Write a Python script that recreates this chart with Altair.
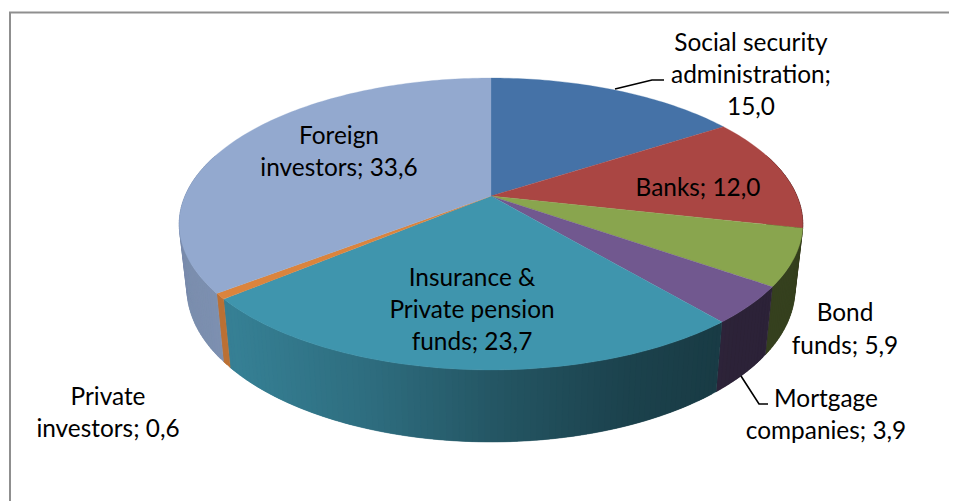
import numpy as np
import pandas as pd
import altair as alt

# ---- data ----
categories = ["Social security administration", "Banks", "Bond funds", "Mortgage companies",
              "Insurance & Private pension funds", "Private investors", "Foreign investors"]
shares = [15.0, 12.0, 5.9, 3.9, 23.7, 0.6, 33.6]
colors = ["#4572A7", "#AA4643", "#89A54E", "#71588F", "#3F95AD", "#DB843D", "#93A9CF"]
label_lines = ["Social security", "administration;", "15,0", "Banks; 12,0", "Bond", "funds; 5,9",
               "Mortgage", "companies; 3,9", "Private", "investors; 0,6", "Insurance &",
               "Private pension", "funds; 23,7", "Foreign", "investors; 33,6"]

# ---- layout of the tilted pie (perspective camera), in picture pixels ----
CX, CY, A, B, K = 491.0, 196.0, 306.0, 140.6, 0.1918
SHRINK = 0.975
label_x = [751, 751, 751, 698, 845, 845, 826, 826, 108, 108, 472, 472, 472, 339, 339]
label_y = [43.5, 75.5, 107.5, 188.5, 313.5, 346.5, 399.5, 431.5, 397.5, 429.5, 278.5, 310.5, 342.5, 136.5, 168.5]
shade_x = [180, 231, 370, 491, 620, 714, 800]
shade_f = [0.84, 0.86, 0.73, 0.58, 0.45, 0.40, 0.39]


def top_point(t):
    X, Y = np.sin(t), np.cos(t)
    d = 1 + K * Y
    return CX + A * X / d, CY - B * Y / d


def bottom_point(t):
    x, y = top_point(t)
    return CX + (x - CX) * SHRINK, y + 68 + 0.048 * (y - 287)


def strips(poly):
    """Vertical sections of a convex polygon, as x / y / y2 rows."""
    poly = np.asarray(poly)
    rows = []
    for x in np.unique(np.round(poly[:, 0], 3)):
        ys = []
        for (x0, y0), (x1, y1) in zip(poly, np.roll(poly, -1, axis=0)):
            lo, hi = min(x0, x1), max(x0, x1)
            if lo - 0.002 <= x <= hi + 0.002:
                if abs(x1 - x0) < 1e-6:
                    ys += [y0, y1]
                else:
                    ys.append(y0 + (y1 - y0) * np.clip((x - x0) / (x1 - x0), 0, 1))
        if ys:
            rows.append((x, min(ys), max(ys)))
    return rows


def shaded(hex_color, x):
    f = float(np.interp(x, shade_x, shade_f))
    r, g, b = [int(hex_color[i:i + 2], 16) for i in (1, 3, 5)]
    return "#%02x%02x%02x" % (int(r * f), int(g * f), int(b * f))


total = sum(shares)
edges = np.concatenate([[0], np.cumsum(shares)]) / total * 2 * np.pi

top_rows, wall_rows = [], []
for i, c in enumerate(colors):
    t0, t1 = edges[i], edges[i + 1]
    n = max(2, int(np.degrees(t1 - t0)) + 1)
    ts = np.linspace(t0, t1, n)
    poly = [(CX, CY)] + [top_point(t) for t in ts]
    for x, y, y2 in strips(poly):
        top_rows.append(dict(id=f"s{i}", fill=c, x=x, y=y, y2=y2))
    for j in range(n - 1):
        a, b = ts[j], ts[min(j + 2, n - 1)]   # each strip runs under the next one
        if np.cos((a + b) / 2) > 0.3:
            continue
        pts = [top_point(a), top_point(b), bottom_point(b), bottom_point(a)]
        fill = shaded(c, 0.5 * (pts[0][0] + pts[1][0]))
        for x, y, y2 in strips(pts):
            wall_rows.append(dict(id=f"w{i:02d}_{j:03d}", fill=fill, x=x, y=y, y2=y2))

x_scale = alt.Scale(domain=[8, 949], nice=False, zero=False)
y_scale = alt.Scale(domain=[501, 8], nice=False, zero=False)
X = alt.X("x:Q", scale=x_scale, axis=None)
Y = alt.Y("y:Q", scale=y_scale, axis=None, stack=None)


def area_layer(rows, stroke):
    mark = alt.Chart(pd.DataFrame(rows)).mark_area(orient="vertical", interpolate="linear",
                                                   strokeWidth=stroke)
    return mark.encode(x=X, y=Y, y2="y2:Q", detail="id:N",
                       fill=alt.Fill("fill:N", scale=None),
                       stroke=alt.Stroke("fill:N", scale=None))


def poly_line(xs, ys, color, width):
    df = pd.DataFrame(dict(x=xs, y=ys, o=range(len(xs))))
    return alt.Chart(df).mark_line(color=color, strokeWidth=width, interpolate="linear").encode(
        x=X, y=alt.Y("y:Q", scale=y_scale, axis=None), order="o:Q")


frame = poly_line([10, 10, 949], [501, 12.5, 12.5], "#8f8f8f", 2)
leader_a = poly_line([615, 652, 664], [89, 80, 80], "#000000", 1.6)
leader_b = poly_line([741, 759, 768], [376, 404, 404], "#000000", 1.6)

labels = alt.Chart(pd.DataFrame(dict(x=label_x, y=label_y, t=label_lines))).mark_text(
    font="Lato", fontSize=24.4, color="#000000", align="center", baseline="middle"
).encode(x=X, y=alt.Y("y:Q", scale=y_scale, axis=None), text="t:N")

chart = alt.layer(
    frame,
    area_layer(wall_rows, 0.3),
    area_layer(top_rows, 0.3),
    leader_a, leader_b, labels,
).properties(
    width=941, height=493, padding=0, autosize=alt.AutoSizeParams(type="none"),
    background="#ffffff"
).configure_view(stroke=None)

chart.save("out.html", embed_options={"renderer": "svg", "actions": False})
